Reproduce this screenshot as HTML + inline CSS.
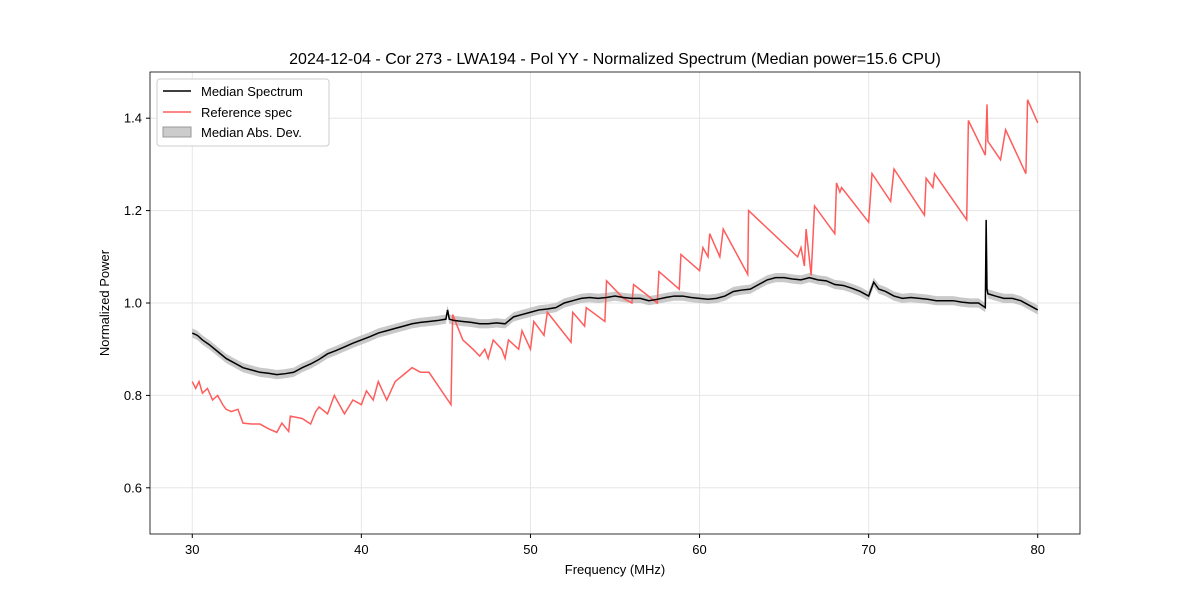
<!DOCTYPE html>
<html><head><meta charset="utf-8"><style>
body{margin:0;background:#fff;}
svg{font-family:"Liberation Sans","DejaVu Sans",sans-serif;}
</style></head><body>
<svg id="chart" width="1200" height="600">
<text x="615" y="64" text-anchor="middle" font-size="16">2024-12-04 - Cor 273 - LWA194 - Pol YY - Normalized Spectrum (Median power=15.6 CPU)</text>
<g id="grid"></g>
<g id="band"></g>
<g id="lines"></g>
<rect x="150" y="72" width="930" height="462" fill="none" stroke="#000" stroke-width="0.8"/>
<g id="ticks"></g>
<text x="615" y="574" text-anchor="middle" font-size="13">Frequency (MHz)</text>
<text transform="translate(109,303) rotate(-90)" text-anchor="middle" font-size="13">Normalized Power</text>
<g>
<rect x="157" y="79" width="172" height="67" rx="3" fill="#fff" stroke="#ccc"/>
<line x1="163" y1="91" x2="191" y2="91" stroke="#000" stroke-width="1.5"/>
<text x="201" y="96" font-size="13">Median Spectrum</text>
<line x1="163" y1="112" x2="191" y2="112" stroke="#ff5c5c" stroke-width="1.5"/>
<text x="201" y="117" font-size="13">Reference spec</text>
<rect x="163" y="127" width="28" height="10" fill="#ccc" stroke="#999"/>
<text x="201" y="137" font-size="13">Median Abs. Dev.</text>
</g>
</svg>
<script>
const xTicks=[30,40,50,60,70,80];
const yTicks=[0.6,0.8,1.0,1.2,1.4];
const medFreq=[30,30.3,30.6,31,31.5,32,32.5,33,33.5,34,34.5,35,35.5,36,36.5,37,37.5,38,38.5,39,39.5,40,40.5,41,41.5,42,42.5,43,43.5,44,44.5,45,45.1,45.2,45.5,46,46.5,47,47.5,48,48.5,49,49.5,50,50.5,51,51.5,52,52.5,53,53.5,54,54.5,55,55.5,56,56.5,57,57.5,58,58.5,59,59.5,60,60.5,61,61.5,62,62.5,63,63.5,64,64.5,65,65.5,66,66.5,67,67.5,68,68.5,69,69.5,70,70.3,70.6,71,71.5,72,72.5,73,73.5,74,74.5,75,75.5,76,76.5,76.9,76.95,77.0,77.05,77.5,78,78.5,79,79.5,80];
const medVal=[0.935,0.93,0.92,0.91,0.895,0.88,0.87,0.86,0.855,0.85,0.848,0.845,0.847,0.85,0.86,0.868,0.878,0.89,0.897,0.905,0.913,0.92,0.927,0.935,0.94,0.945,0.95,0.955,0.958,0.96,0.962,0.965,0.985,0.965,0.962,0.96,0.958,0.955,0.955,0.957,0.955,0.97,0.975,0.98,0.985,0.987,0.99,1.0,1.005,1.01,1.012,1.01,1.012,1.015,1.012,1.01,1.01,1.005,1.008,1.012,1.015,1.015,1.012,1.01,1.008,1.01,1.015,1.025,1.028,1.03,1.04,1.05,1.055,1.055,1.052,1.05,1.055,1.05,1.048,1.04,1.038,1.032,1.025,1.015,1.045,1.03,1.025,1.015,1.01,1.012,1.01,1.008,1.005,1.005,1.005,1.002,1.0,1.0,0.99,1.18,1.03,1.02,1.015,1.01,1.01,1.005,0.995,0.985];
const madVal=[0.01];
const refFreq=[30,30.2,30.4,30.6,30.9,31.2,31.5,31.8,32,32.3,32.7,33,33.5,34,34.5,35,35.3,35.7,35.8,36.5,37,37.3,37.5,38,38.4,39,39.5,40,40.3,40.7,41,41.5,42,42.5,43,43.5,44,45.3,45.4,46,46.6,47,47.3,47.5,47.8,48.3,48.5,48.7,49.3,49.5,50,50.2,50.8,51,52.4,52.5,53.2,53.3,54.4,54.5,55.5,56,56.1,57.5,57.6,58.8,58.9,60,60.2,60.5,60.6,61.2,61.4,62.85,62.9,65.8,66,66.2,66.3,66.6,66.8,68,68.1,68.3,68.4,70,70.2,71.3,71.5,73.3,73.4,73.8,73.9,75.8,75.9,76.9,77.0,77.05,77.8,78.1,79.3,79.4,80];
const refVal=[0.83,0.815,0.83,0.805,0.815,0.79,0.8,0.78,0.77,0.765,0.77,0.74,0.738,0.738,0.728,0.72,0.74,0.722,0.755,0.75,0.738,0.765,0.775,0.76,0.8,0.76,0.79,0.78,0.81,0.79,0.83,0.79,0.83,0.845,0.86,0.85,0.85,0.78,0.975,0.92,0.9,0.885,0.9,0.88,0.92,0.9,0.88,0.92,0.9,0.94,0.9,0.96,0.93,0.98,0.915,0.98,0.95,0.99,0.96,1.048,1.01,1.0,1.04,1.0,1.068,1.03,1.105,1.07,1.12,1.1,1.15,1.1,1.16,1.062,1.2,1.1,1.12,1.08,1.16,1.06,1.21,1.15,1.26,1.24,1.25,1.175,1.28,1.22,1.29,1.19,1.27,1.25,1.28,1.18,1.395,1.32,1.43,1.35,1.31,1.375,1.28,1.44,1.39];
const X=f=>150+(f-27.5)*(930/55);
const Y=v=>534-(v-0.5)*462;
const NS="http://www.w3.org/2000/svg";
function mk(parent,tag,attrs){const e=document.createElementNS(NS,tag);for(const k in attrs)e.setAttribute(k,attrs[k]);document.getElementById(parent).appendChild(e);return e;}
xTicks.forEach(t=>{
 let g=mk('grid','line',{x1:X(t),x2:X(t),y1:72,y2:534,stroke:'#e6e6e6'});
 
 
 let l=mk('ticks','line',{x1:X(t),x2:X(t),y1:534,y2:538,stroke:'#000'});
 
 
 let tx=mk('ticks','text',{x:X(t),y:554,'text-anchor':'middle','font-size':13});tx.textContent=t;
 
 
});
yTicks.forEach(t=>{
 let g=mk('grid','line',{x1:150,x2:1080,y1:Y(t),y2:Y(t),stroke:'#e6e6e6'});
 
 
 let l=mk('ticks','line',{x1:146,x2:150,y1:Y(t),y2:Y(t),stroke:'#000'});
 
 
 let tx=mk('ticks','text',{x:142,y:Y(t)+4.5,'text-anchor':'end','font-size':13});tx.textContent=t.toFixed(1);
 
 
});
const m=madVal[0];
let up=medFreq.map((f,i)=>X(f)+','+Y(medVal[i]+m)).join(' ');
let dn=medFreq.slice().reverse().map((f,j)=>{const i=medFreq.length-1-j;return X(f)+','+Y(medVal[i]-m);}).join(' ');
let band=mk('band','polygon',{points:up+' '+dn,fill:'#bbb','fill-opacity':0.8});


let ref=mk('lines','polyline',{points:refFreq.map((f,i)=>X(f)+','+Y(refVal[i])).join(' '),fill:'none',stroke:'#ff5c5c','stroke-width':1.5});


let med=mk('lines','polyline',{points:medFreq.map((f,i)=>X(f)+','+Y(medVal[i])).join(' '),fill:'none',stroke:'#000','stroke-width':1.5});


</script>
</body></html>
